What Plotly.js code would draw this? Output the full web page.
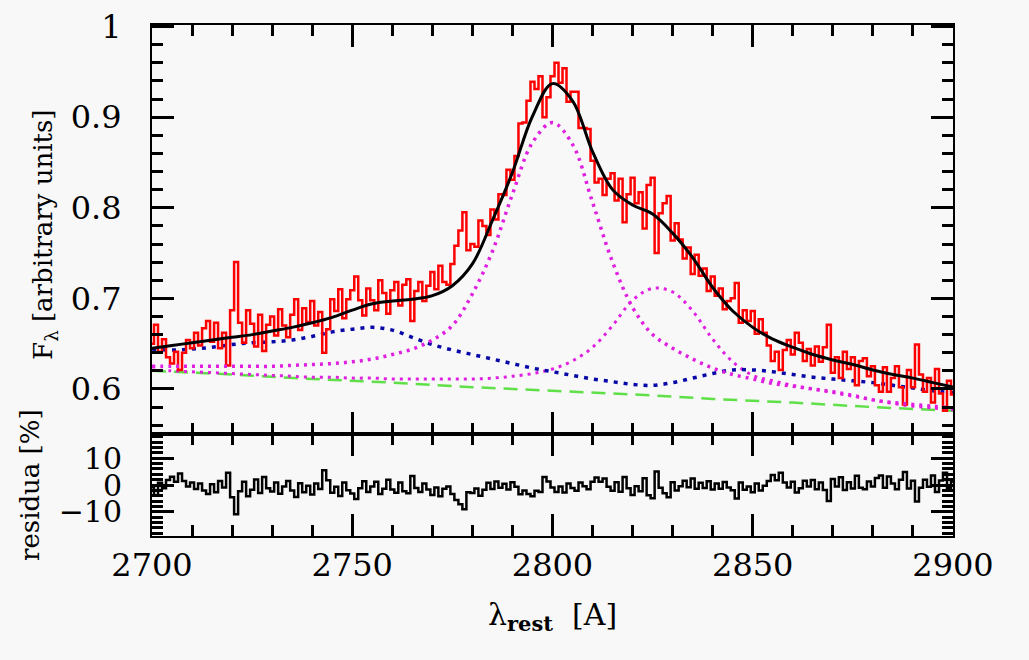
<!DOCTYPE html>
<html>
<head>
<meta charset="utf-8">
<script src="https://cdn.plot.ly/plotly-3.0.1.min.js"></script>
<style>
  html, body { margin: 0; padding: 0; background: #f8f8f8; }
  #chart { width: 1029px; height: 660px; }
</style>
</head>
<body>
<div id="chart"></div>
<script>
// Observed spectrum, 1 A steps from 2700 to 2900
var wave_obs = [];
for (var i = 0; i <= 200; i++) wave_obs.push(2700 + i);

var flux_obs = [
  0.650, 0.671, 0.641, 0.655, 0.635, 0.628, 0.641, 0.621, 0.640, 0.654,
  0.645, 0.662, 0.648, 0.667, 0.675, 0.652, 0.673, 0.645, 0.662, 0.626,
  0.687, 0.740, 0.673, 0.651, 0.687, 0.672, 0.647, 0.682, 0.642, 0.671,
  0.680, 0.659, 0.688, 0.670, 0.657, 0.682, 0.699, 0.665, 0.689, 0.674,
  0.697, 0.670, 0.685, 0.640, 0.666, 0.699, 0.686, 0.710, 0.678, 0.699,
  0.709, 0.724, 0.698, 0.681, 0.711, 0.698, 0.687, 0.720, 0.706, 0.683,
  0.709, 0.718, 0.692, 0.715, 0.721, 0.675, 0.708, 0.718, 0.697, 0.714,
  0.729, 0.710, 0.736, 0.718, 0.715, 0.738, 0.758, 0.775, 0.795, 0.753,
  0.760, 0.757, 0.786, 0.780, 0.770, 0.798, 0.787, 0.815, 0.814, 0.842,
  0.831, 0.857, 0.893, 0.894, 0.918, 0.939, 0.931, 0.945, 0.900, 0.922,
  0.945, 0.960, 0.938, 0.954, 0.917, 0.928, 0.928, 0.888, 0.888, 0.887,
  0.852, 0.828, 0.832, 0.814, 0.832, 0.838, 0.808, 0.832, 0.784, 0.815,
  0.833, 0.805, 0.817, 0.777, 0.825, 0.833, 0.750, 0.794, 0.805, 0.813,
  0.764, 0.783, 0.765, 0.744, 0.756, 0.727, 0.748, 0.725, 0.733, 0.708,
  0.724, 0.703, 0.711, 0.688, 0.697, 0.700, 0.717, 0.673, 0.687, 0.675,
  0.686, 0.661, 0.677, 0.662, 0.648, 0.631, 0.641, 0.621, 0.643, 0.654,
  0.638, 0.662, 0.651, 0.631, 0.644, 0.626, 0.647, 0.630, 0.646, 0.671,
  0.618, 0.635, 0.612, 0.641, 0.622, 0.635, 0.604, 0.631, 0.634, 0.614,
  0.625, 0.604, 0.597, 0.624, 0.597, 0.612, 0.625, 0.602, 0.583, 0.621,
  0.602, 0.649, 0.616, 0.597, 0.612, 0.585, 0.622, 0.595, 0.576, 0.609,
  0.594
];

// residuals in percent, same wavelength grid
var resid = [
  -0.8, -3.9, 0.8, -1.2, 1.9, 3.1, 1.2, 4.3, 1.5, -0.6,
  0.9, -1.5, 0.6, -2.1, -3.4, 0.3, -2.7, 1.5, -0.9, 4.6,
  -4.6, -11.0, -2.3, 1.2, -4.2, -1.8, 2.1, -3.0, 3.0, -1.2,
  -2.4, 0.9, -3.3, -0.6, 1.5, -2.1, -4.5, 0.7, -2.7, -0.3,
  -3.6, 0.6, -1.5, 5.5, 1.8, -2.9, -0.7, -4.1, 0.9, -2.0,
  -3.2, -5.2, -1.2, 1.4, -2.6, -0.6, 1.2, -3.4, -1.4, 2.0,
  -1.7, -2.9, 0.9, -2.3, -3.1, 3.4, -1.1, -2.6, 0.6, -1.7,
  -3.7, -0.9, -4.2, -1.4, -0.6, -3.4, -5.6, -7.2, -9.1, -2.7,
  -3.0, -1.3, -4.0, -1.8, 0.8, -1.5, 1.3, -1.0, 0.5, -1.7,
  1.0, -0.7, -3.5, -2.1, -3.4, -4.2, -2.2, -2.6, 3.0, 1.3,
  -0.9, -2.6, -0.6, -2.8, 0.6, -1.1, -2.2, 0.9, -0.5, -1.6,
  1.2, 2.8, 1.2, 2.4, -0.7, -2.2, 1.0, -2.5, 3.0, -1.2,
  -3.7, -0.5, -2.3, 2.5, -3.8, -5.0, 5.1, -1.0, -3.1, -4.6,
  1.0, -2.1, -0.5, 1.6, -0.8, 2.4, -1.4, 0.8, -1.1, 1.4,
  -1.7, 0.6, -1.4, 1.1, -0.9, -2.0, -5.1, 0.9, -1.8, -0.6,
  -2.7, 0.6, -2.1, -0.3, 1.5, 3.7, 1.8, 4.6, 0.9, -0.9,
  1.2, -2.8, -1.2, 1.6, -0.6, 1.9, -1.6, 0.9, -1.9, -6.0,
  2.2, -0.6, 2.9, -1.9, 1.0, -1.3, 3.5, -1.0, -1.6, 1.3,
  -0.6, 2.6, 3.6, -1.0, 3.2, 0.6, -1.6, 2.0, 4.9, -1.3,
  1.6, -6.2, -1.0, 2.0, -0.7, 3.6, -2.6, 1.7, 4.6, -1.0,
  1.3
];

// Fitted model and its components, 5 A steps
var wave_fit = [];
for (var j = 0; j <= 40; j++) wave_fit.push(2700 + 5 * j);

var model_total = [
  0.645, 0.648, 0.651, 0.654, 0.657, 0.660, 0.664, 0.668, 0.673, 0.679,
  0.687, 0.694, 0.697, 0.699, 0.703, 0.714, 0.738, 0.786, 0.839, 0.901,
  0.937, 0.918, 0.862, 0.820, 0.803, 0.793, 0.772, 0.745, 0.712, 0.686,
  0.668, 0.655, 0.646, 0.638, 0.632, 0.627, 0.621, 0.616, 0.612, 0.607,
  0.602
];

var feii_comp = [
  0.644, 0.643, 0.644, 0.646, 0.649, 0.651, 0.652, 0.654, 0.658, 0.663,
  0.666, 0.668, 0.665, 0.657, 0.649, 0.643, 0.638, 0.633, 0.628, 0.623,
  0.619, 0.615, 0.611, 0.608, 0.605, 0.604, 0.607, 0.612, 0.617, 0.621,
  0.621, 0.619, 0.616, 0.613, 0.611, 0.609, 0.607, 0.604, 0.601, 0.598,
  0.596
];

var mg_line_a = [
  0.625, 0.625, 0.625, 0.625, 0.625, 0.625, 0.625, 0.626, 0.627, 0.628,
  0.630, 0.633, 0.638, 0.644, 0.654, 0.670, 0.705, 0.752, 0.815, 0.872,
  0.894, 0.870, 0.806, 0.740, 0.690, 0.660, 0.645, 0.633, 0.623, 0.616,
  0.611, 0.606, 0.603, 0.600, 0.597, 0.593, 0.588, 0.585, 0.583, 0.581,
  0.579
];

var mg_line_b = [
  0.621, 0.620, 0.619, 0.618, 0.617, 0.616, 0.615, 0.614, 0.613, 0.613,
  0.612, 0.612, 0.611, 0.611, 0.611, 0.611, 0.611, 0.612, 0.614, 0.617,
  0.622, 0.631, 0.646, 0.670, 0.698, 0.711, 0.707, 0.686, 0.655, 0.630,
  0.615, 0.609, 0.604, 0.600, 0.596, 0.592, 0.588, 0.584, 0.581, 0.579,
  0.577
];

// power-law continuum
var wave_cont = [2700, 2720, 2740, 2760, 2780, 2800, 2820, 2840, 2860, 2880, 2900];
var cont = [0.620, 0.616, 0.611, 0.607, 0.602, 0.598, 0.594, 0.589, 0.585, 0.580, 0.576];

var serif = "DejaVu Serif";
var flux_range = [0.5503, 1.0017];
var resid_range = [-19.1, 19.1];
var wave_range = [2700, 2900];

var traces = [
  { x: wave_cont, y: cont, xaxis: "x2", yaxis: "y2", mode: "lines",
    line: { color: "#5fe048", width: 2.5, dash: "14px,8px" } },
  { x: wave_fit, y: mg_line_b, xaxis: "x2", yaxis: "y2", mode: "lines",
    line: { color: "#e020e0", width: 3, dash: "3px,5px", shape: "spline" } },
  { x: wave_fit, y: feii_comp, xaxis: "x2", yaxis: "y2", mode: "lines",
    line: { color: "#0808a8", width: 3.5, dash: "4px,6px", shape: "spline" } },
  { x: wave_obs, y: flux_obs, xaxis: "x2", yaxis: "y2", mode: "lines",
    line: { color: "#ff0000", width: 2.5, shape: "hvh" } },
  { x: wave_fit, y: mg_line_a, xaxis: "x2", yaxis: "y2", mode: "lines",
    line: { color: "#e020e0", width: 3.5, dash: "3px,5px", shape: "spline" } },
  { x: wave_fit, y: model_total, xaxis: "x2", yaxis: "y2", mode: "lines",
    line: { color: "#000000", width: 3, shape: "spline" } },
  { x: wave_obs, y: resid, xaxis: "x", yaxis: "y", mode: "lines",
    line: { color: "#000000", width: 2.5, shape: "hvh" } }
];

// empty traces so that the tick-only overlay axes get drawn
[["x3", "y3"], ["x4", "y4"], ["x5", "y5"], ["x6", "y6"]].forEach(function (p) {
  traces.push({ x: [], y: [], xaxis: p[0], yaxis: p[1], mode: "lines", hoverinfo: "skip" });
});

function axis(extra) {
  var ax = {
    showline: true, linecolor: "#000", linewidth: 2,
    showgrid: false, zeroline: false,
    tickfont: { family: serif, size: 32, color: "#000" }
  };
  for (var k in extra) ax[k] = extra[k];
  return ax;
}

// label-less axes that only carry inward ticks on both sides
function tickAxis(len, extra) {
  var ax = axis({ ticks: "inside", ticklen: len, tickwidth: 2.5, tickcolor: "#000",
    mirror: "allticks", showticklabels: false });
  for (var k in extra) ax[k] = extra[k];
  return ax;
}

var layout = {
  width: 1029, height: 660,
  margin: { l: 152, r: 76, t: 25, b: 124 },
  paper_bgcolor: "#f8f8f8", plot_bgcolor: "#f8f8f8",
  showlegend: false,
  // main axes: frame and labels
  xaxis: axis({ range: wave_range, tick0: 2700, dtick: 50, anchor: "y", mirror: true }),
  xaxis2: axis({ range: wave_range, tick0: 2700, dtick: 50, anchor: "y2", mirror: true,
    showticklabels: false }),
  yaxis: axis({ domain: [0, 0.1996], range: resid_range, tick0: 0, dtick: 10,
    anchor: "x", mirror: true, ticklabelstandoff: 22,
    tickfont: { family: serif, size: 30, color: "#000" } }),
  yaxis2: axis({ domain: [0.1996, 1], range: flux_range, tick0: 0, dtick: 0.1,
    anchor: "x2", mirror: true, ticklabelstandoff: 22 }),
  // small ticks
  xaxis3: tickAxis(11, { range: wave_range, tick0: 2700, dtick: 10, overlaying: "x", anchor: "y" }),
  yaxis3: tickAxis(11, { range: resid_range, tick0: 0, dtick: 2, overlaying: "y", anchor: "x" }),
  xaxis4: tickAxis(11, { range: wave_range, tick0: 2700, dtick: 10, overlaying: "x2", anchor: "y2" }),
  yaxis4: tickAxis(11, { range: flux_range, tick0: 0, dtick: 0.02, overlaying: "y2", anchor: "x2" }),
  // big ticks
  xaxis5: tickAxis(22, { range: wave_range, tick0: 2700, dtick: 50, overlaying: "x", anchor: "y" }),
  yaxis5: tickAxis(22, { range: resid_range, tick0: 0, dtick: 10, overlaying: "y", anchor: "x" }),
  xaxis6: tickAxis(22, { range: wave_range, tick0: 2700, dtick: 50, overlaying: "x2", anchor: "y2" }),
  yaxis6: tickAxis(22, { range: flux_range, tick0: 0, dtick: 0.1, overlaying: "y2", anchor: "x2" }),
  annotations: [
    { text: "F<sub>λ</sub> [arbitrary units]", textangle: -90, showarrow: false,
      xref: "paper", yref: "paper", x: -0.1336, y: 0.5892,
      xanchor: "center", yanchor: "middle",
      font: { family: serif, size: 26, color: "#000" } },
    { text: "residua [%]", textangle: -90, showarrow: false,
      xref: "paper", yref: "paper", x: -0.1523, y: 0.0998,
      xanchor: "center", yanchor: "middle",
      font: { family: serif, size: 26, color: "#000" } },
    { text: "λ<sub><b>rest</b></sub>  [A]", showarrow: false,
      xref: "paper", yref: "paper", x: 0.4994, y: -0.1585,
      xanchor: "center", yanchor: "middle",
      font: { family: serif, size: 30, color: "#000" } }
  ]
};

Plotly.newPlot("chart", traces, layout, { displayModeBar: false });
</script>
</body>
</html>
